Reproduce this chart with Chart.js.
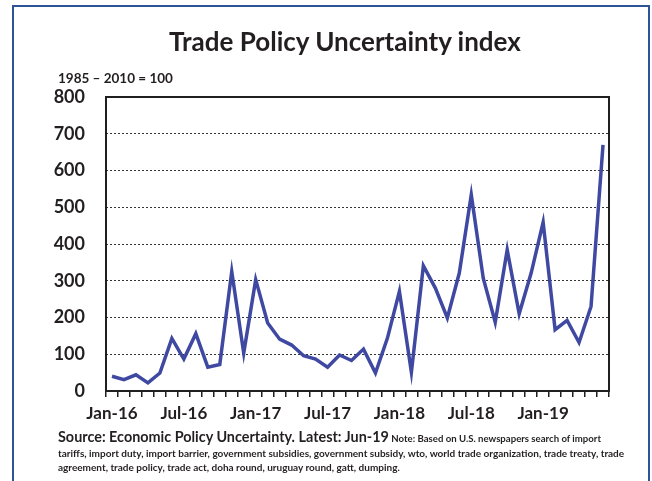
<!DOCTYPE html>
<html><head><meta charset="utf-8">
<script src="https://cdn.jsdelivr.net/npm/chart.js@4.4.1/dist/chart.umd.min.js"></script>
<style>
html,body{margin:0;padding:0;background:#fff;width:652px;height:481px;overflow:hidden;font-family:Lato,"Open Sans",sans-serif;color:#231f20;}
#frame{position:absolute;left:12px;top:5px;width:638px;height:500px;border:2px solid #2f5496;box-sizing:border-box;}
#wrap{position:absolute;left:0;top:0;width:652px;height:481px;}
#title{position:absolute;left:95px;width:500px;top:25px;text-align:center;font-weight:bold;font-size:26px;line-height:32px;}
#sub{position:absolute;left:58px;top:70px;font-weight:bold;font-size:13.5px;line-height:16px;}
#foot{position:absolute;left:58px;top:430px;width:590px;font-weight:bold;font-size:10px;line-height:14px;white-space:nowrap;}
#foot .src{font-size:14.4px;}
#foot .note{font-size:9.6px;}
</style></head>
<body>
<div id="frame"></div>
<div id="wrap"><canvas id="c" width="652" height="481"></canvas></div>
<div id="title">Trade Policy Uncertainty index</div>
<div id="sub">1985 – 2010 = 100</div>
<div id="foot"><span class="src">Source: Economic Policy Uncertainty. Latest: Jun-19</span> <span class="note">Note: Based on U.S. newspapers search of import</span><br>tariffs, import duty, import barrier, government subsidies, government subsidy, wto, world trade organization, trade treaty, trade<br>agreement, trade policy, trade act, doha round, uruguay round, gatt, dumping.</div>
<script>
const categories = [
 "Jan-16","Feb-16","Mar-16","Apr-16","May-16","Jun-16","Jul-16","Aug-16","Sep-16","Oct-16","Nov-16","Dec-16",
 "Jan-17","Feb-17","Mar-17","Apr-17","May-17","Jun-17","Jul-17","Aug-17","Sep-17","Oct-17","Nov-17","Dec-17",
 "Jan-18","Feb-18","Mar-18","Apr-18","May-18","Jun-18","Jul-18","Aug-18","Sep-18","Oct-18","Nov-18","Dec-18",
 "Jan-19","Feb-19","Mar-19","Apr-19","May-19","Jun-19"
];
const tpuValues = [
 40,31,44,22,49,143,87,156,65,72,325,103,
 303,185,141,125,96,87,65,98,83,114,49,144,
 271,51,341,280,199,321,534,307,187,384,210,321,
 459,167,192,132,230,670
];
const yMin = 0, yMax = 800, yStep = 100;
const labelEvery = 6;

const plotFrame = {
  id: 'plotFrame',
  beforeDatasetsDraw(chart) {
    const {ctx, chartArea: a} = chart;
    ctx.save();
    ctx.strokeStyle = '#1f1f1f';
    ctx.lineWidth = 2;
    ctx.strokeRect(a.left, a.top, a.right - a.left, a.bottom - a.top);
    ctx.restore();
  }
};

new Chart(document.getElementById('c'), {
  type: 'line',
  data: {
    labels: categories,
    datasets: [{
      data: tpuValues,
      borderColor: '#3f49a2',
      borderWidth: 3.5,
      pointRadius: 0,
      tension: 0,
      fill: false
    }]
  },
  options: {
    responsive: false,
    animation: false,
    layout: {padding: {left: 0, top: 97, right: 43, bottom: 60}},
    plugins: {legend: {display: false}, title: {display: false}, tooltip: {enabled: false}},
    scales: {
      x: {
        offset: true,
        grid: {drawOnChartArea: false, drawTicks: true, tickLength: 6, offset: true, color: '#1f1f1f', lineWidth: 1.5},
        border: {display: false},
        ticks: {
          autoSkip: false, maxRotation: 0, minRotation: 0, padding: 6,
          color: '#231f20', font: {family: 'Lato', weight: 'bold', size: 17},
          callback: (v, i) => (i % labelEvery === 0 ? categories[i] : '')
        },
        afterFit(scale) { scale.height = 30; }
      },
      y: {
        min: yMin, max: yMax,
        grid: {drawTicks: false, color: '#333', lineWidth: 1},
        border: {display: false, dash: [2, 2]},
        ticks: {stepSize: yStep, padding: 21, color: '#231f20', font: {family: 'Lato', weight: 'bold', size: 18}},
        afterFit(scale) { scale.width = 106; }
      }
    }
  },
  plugins: [plotFrame]
});
</script>
</body></html>
